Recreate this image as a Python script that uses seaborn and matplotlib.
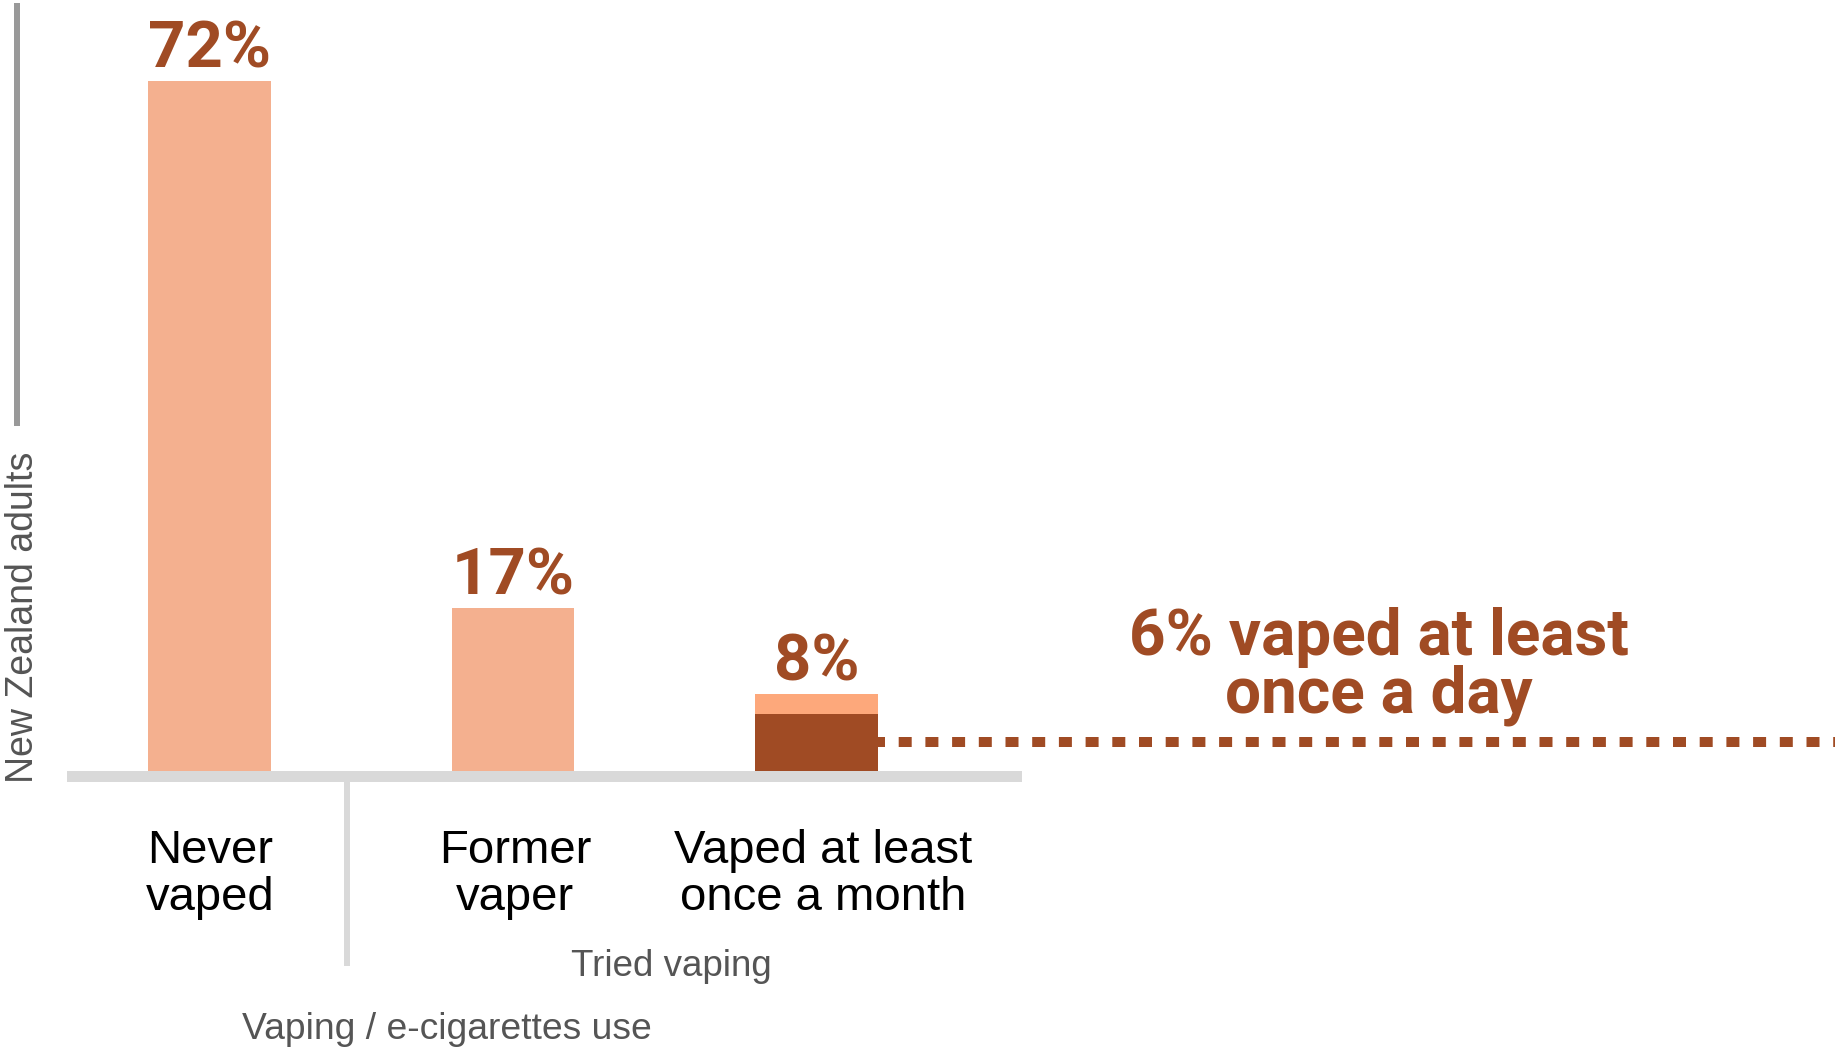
import matplotlib
matplotlib.use("Agg")
import matplotlib.pyplot as plt
from matplotlib.patches import Rectangle
import seaborn as sns

# --- data -------------------------------------------------------------
categories = ["Never vaped", "Former vaper", "Vaped at least once a month"]
category_lines = [("Never", "vaped"), ("Former", "vaper"), ("Vaped at least", "once a month")]
share_pct = [72, 17, 8]          # % of New Zealand adults
daily_pct = 6                    # of the monthly vapers, vaped at least once a day
group_label = "Tried vaping"
x_title = "Vaping / e-cigarettes use"
y_title = "New Zealand adults"
daily_lines = ["6% vaped at least", "once a day"]

# --- style ------------------------------------------------------------
sns.set_style("white")
plt.rcParams["font.family"] = ["Liberation Sans", "DejaVu Sans"]

LIGHT = "#f4b08f"
MONTHLY = "#fda87b"
DARK = "#a04b24"
AXIS_GREY = "#d9d9d9"
TEXT_GREY = "#555555"
BOLD_FONT = ["Roboto", "Liberation Sans", "DejaVu Sans"]

W, H = 1835, 1049
fig = plt.figure(figsize=(W / 100, H / 100), dpi=100)
ax = fig.add_axes([0, 0, 1, 1])

BAR_W = 0.405
X0_PX, STEP_PX = 209.5, 303.5      # pixel centre of first bar, spacing
BASE_PX, UNIT_PX = 771, 690 / 72   # baseline row, pixels per percentage point


def fx(px):
    return px / W


def fy(py):
    return 1 - py / H


# bars
sns.barplot(x=categories, y=share_pct, order=categories, hue=categories,
            palette=[LIGHT, LIGHT, MONTHLY], legend=False, width=BAR_W,
            saturation=1, errorbar=None, ax=ax, zorder=2,
            linewidth=0, edgecolor="none")
sns.barplot(x=[categories[2]], y=[daily_pct], order=categories, color=DARK,
            width=BAR_W, saturation=1, errorbar=None, ax=ax, zorder=3,
            linewidth=0, edgecolor="none")

ax.set_xlim(-X0_PX / STEP_PX, (W - X0_PX) / STEP_PX)
ax.set_ylim(-(H - BASE_PX) / UNIT_PX, BASE_PX / UNIT_PX)
ax.set_axis_off()

# value labels above bars
for i, v in enumerate(share_pct):
    ax.annotate(f"{v}%", xy=(i, v), xytext=(0, 14), textcoords="offset pixels",
                ha="center", va="baseline", fontsize=47, fontweight="bold",
                family=BOLD_FONT, color=DARK)

# dotted connector from the daily segment to the call-out
start = 2 + BAR_W / 2 - 6.3 / STEP_PX
ax.plot([start, ax.get_xlim()[1] + 0.2], [daily_pct / 2] * 2, color=DARK,
        lw=7.2, linestyle=(0, (1.3, 1.37)), dash_capstyle="butt",
        solid_capstyle="butt", zorder=1)

for txt, base in zip(daily_lines, [655, 713]):
    fig.text(fx(1379), fy(base), txt, ha="center", va="baseline",
             fontsize=46, fontweight="bold", family=BOLD_FONT, color=DARK)

# axis furniture
fig.patches.append(Rectangle((fx(67), fy(782)), fx(1022) - fx(67), fy(771) - fy(782),
                             transform=fig.transFigure, color=AXIS_GREY, zorder=1,
                             lw=0))
fig.patches.append(Rectangle((fx(344), fy(966)), fx(350) - fx(344), fy(782) - fy(966),
                             transform=fig.transFigure, color=AXIS_GREY, lw=0))
fig.patches.append(Rectangle((fx(14), fy(426)), fx(20) - fx(14), fy(3) - fy(426),
                             transform=fig.transFigure, color="#999999", lw=0))

# category labels
label_x = [210, 515, 823]
for cx, (l1, l2) in zip(label_x, category_lines):
    fig.text(fx(cx), fy(863), l1, ha="center", va="baseline", fontsize=34, color="black")
    fig.text(fx(cx), fy(910), l2, ha="center", va="baseline", fontsize=34, color="black")

fig.text(fx(671), fy(976), group_label, ha="center", va="baseline",
         fontsize=26.5, color=TEXT_GREY)
fig.text(fx(447), fy(1039), x_title, ha="center", va="baseline",
         fontsize=26.8, color=TEXT_GREY)
fig.text(fx(33), fy(617), y_title, ha="center", va="baseline", rotation=90,
         rotation_mode="anchor", fontsize=27, color=TEXT_GREY)

fig.savefig("out.png", dpi=100, facecolor="white")
